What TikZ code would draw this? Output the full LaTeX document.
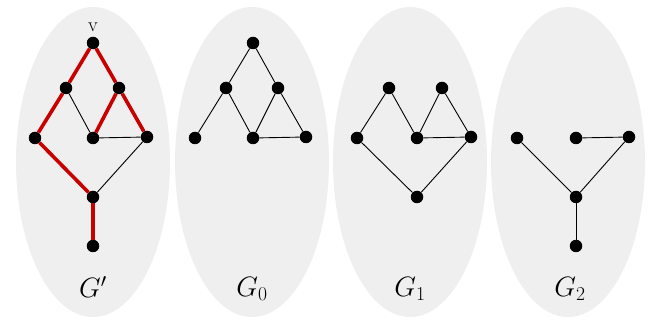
\RequirePackage{fix-cm}
\documentclass[tikz,border=0pt]{standalone}
\begin{document}
\begin{tikzpicture}[x=1pt,y=-1pt,
  vtx/.style={circle,fill=black,inner sep=0pt,minimum size=12.5pt},
  blob/.style={fill=bggray,draw=none},
  edge/.style={line width=0.9pt,black},
  redge/.style={line width=3.6pt,redc},
  lbl/.style={font=\fontsize{28}{30}\selectfont}]
\definecolor{bggray}{RGB}{239,239,239}
\definecolor{redc}{RGB}{200,0,0}
\useasboundingbox (0,0) rectangle (656,320);
\fill[blob] (93,162) ellipse [x radius=77, y radius=155];
\fill[blob] (252,162) ellipse [x radius=77, y radius=155];
\fill[blob] (410,162) ellipse [x radius=77, y radius=155];
\fill[blob] (568,162) ellipse [x radius=77, y radius=155];
% G'
\node[vtx] (a1) at (93,43) {};
\node[font=\fontsize{20}{22}\selectfont,inner sep=0pt,anchor=base] (vl) at (93,32) {v};
\node[vtx] (a2) at (66,88) {};
\node[vtx] (a3) at (119,88) {};
\node[vtx] (a4) at (35,138) {};
\node[vtx] (a5) at (93,138) {};
\node[vtx] (a6) at (147,137) {};
\node[vtx] (a7) at (93,197) {};
\node[vtx] (a8) at (93,246) {};
\draw[edge] (a2) -- (a5);
\draw[edge] (a5) -- (a6);
\draw[edge] (a6) -- (a7);
\draw[redge] (a1) -- (a2);
\draw[redge] (a1) -- (a3);
\draw[redge] (a2) -- (a4);
\draw[redge] (a3) -- (a5);
\draw[redge] (a3) -- (a6);
\draw[redge] (a4) -- (a7);
\draw[redge] (a7) -- (a8);
\node[lbl] (l1) at (93,287) {$G'$};
% G0
\node[vtx] (b1) at (253,43) {};
\node[vtx] (b2) at (226,88) {};
\node[vtx] (b3) at (278,88) {};
\node[vtx] (b4) at (195,138) {};
\node[vtx] (b5) at (253,138) {};
\node[vtx] (b6) at (306,137) {};
\draw[edge] (b1) -- (b2);
\draw[edge] (b1) -- (b3);
\draw[edge] (b2) -- (b4);
\draw[edge] (b2) -- (b5);
\draw[edge] (b3) -- (b5);
\draw[edge] (b3) -- (b6);
\draw[edge] (b5) -- (b6);
\node[lbl] (l2) at (252,289) {$G_0$};
% G1
\node[vtx] (c2) at (389,88) {};
\node[vtx] (c3) at (442,88) {};
\node[vtx] (c4) at (357,138) {};
\node[vtx] (c5) at (417,138) {};
\node[vtx] (c6) at (471,137) {};
\node[vtx] (c7) at (417,197) {};
\draw[edge] (c2) -- (c4);
\draw[edge] (c2) -- (c5);
\draw[edge] (c3) -- (c5);
\draw[edge] (c3) -- (c6);
\draw[edge] (c5) -- (c6);
\draw[edge] (c4) -- (c7);
\draw[edge] (c6) -- (c7);
\node[lbl] (l3) at (410,289) {$G_1$};
% G2
\node[vtx] (d4) at (517,138) {};
\node[vtx] (d5) at (576,138) {};
\node[vtx] (d6) at (629,137) {};
\node[vtx] (d7) at (576,197) {};
\node[vtx] (d8) at (576,246) {};
\draw[edge] (d4) -- (d7);
\draw[edge] (d5) -- (d6);
\draw[edge] (d6) -- (d7);
\draw[edge] (d7) -- (d8);
\node[lbl] (l4) at (570,289) {$G_2$};
\end{tikzpicture}
\end{document}
